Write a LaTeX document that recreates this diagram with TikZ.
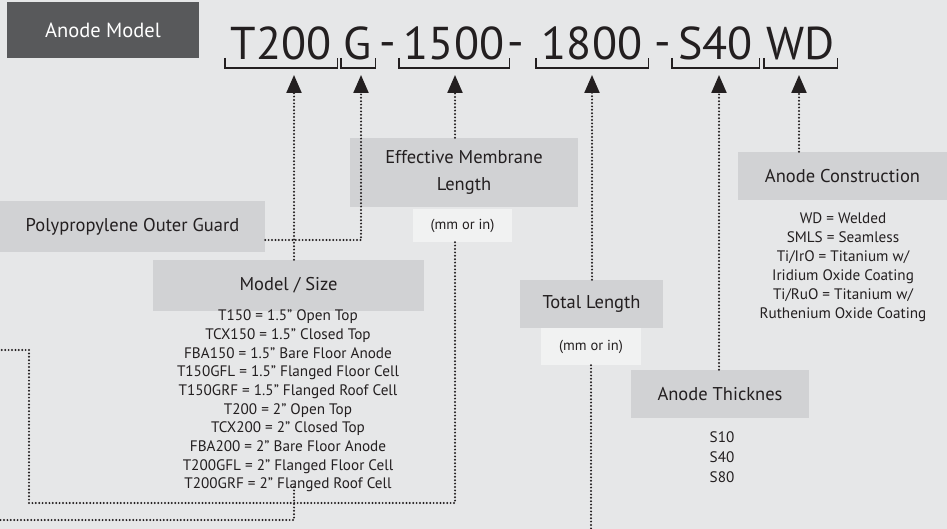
\documentclass[tikz,border=0pt]{standalone}
\usepackage{fontspec}
\setmainfont{PT Sans}
\usetikzlibrary{arrows.meta, positioning, calc}

\definecolor{bgGray}{HTML}{E6E7E8}
\definecolor{boxGray}{HTML}{D1D2D4}
\definecolor{darkBox}{HTML}{58595B}
\definecolor{unitBox}{HTML}{F1F2F2}
\definecolor{inkGray}{HTML}{231F20}

\begin{document}
\begin{tikzpicture}[x=1pt, y=-1pt, every node/.style={text=inkGray},
    codepart/.style={font=\fontsize{46}{46}\selectfont, inner sep=0pt, anchor=base},
    tag/.style={fill=boxGray, font=\fontsize{18.5}{27}\selectfont, align=center, inner sep=0pt},
    unit/.style={fill=unitBox, font=\fontsize{14.5}{16}\selectfont, inner sep=0pt},
    spec/.style={font=\fontsize{15.2}{18.7}\selectfont, align=center, inner sep=0pt},
    brk/.style={line width=1.4pt, draw=inkGray},
    lead/.style={line width=2.2pt, dash pattern=on 0pt off 3.4pt, line cap=round, draw=inkGray},
    arrowed/.style={-{Triangle[width=15pt, length=18pt]}}]
  \useasboundingbox (0,0) rectangle (947,529);
  \fill[bgGray] (0,0) rectangle (947,529);

  % model code
  \node[fill=darkBox, text=white, inner sep=0pt, minimum width=192pt, minimum height=56pt,
        font=\fontsize{20.5}{24}\selectfont] (title) at (103,30) {Anode Model};
  \node[codepart, minimum width=112pt] (cT) at (281,60) {T200};
  \node[codepart, minimum width=34pt] (cG) at (358,60) {G};
  \node[codepart] (d1) at (387.5,58) {-};
  \node[codepart, minimum width=110pt] (cM) at (454,60) {1500};
  \node[codepart] (d2) at (516,58) {-};
  \node[codepart, minimum width=112pt] (cL) at (592,60) {1800};
  \node[codepart] (d3) at (662.5,58) {-};
  \node[codepart, minimum width=87pt] (cS) at (715.5,60) {S40};
  \node[codepart, minimum width=73pt] (cW) at (800.5,60) {WD};
  \foreach \c in {cT,cG,cM,cL,cS,cW}
    \draw[brk] ($(\c.base west)+(0,-2)$) |- ($(\c.base east)+(0,8)$) -- ($(\c.base east)+(0,-2)$);

  \coordinate (aT) at (294,75);
  \coordinate (aG) at (361,75);
  \coordinate (aM) at (455,75);
  \coordinate (aL) at (592,75);
  \coordinate (aS) at (719,75);
  \coordinate (aW) at (799,75);

  % boxes
  \node[tag, minimum width=265pt, minimum height=51pt] (guard) at (132.5,226.5) {Polypropylene Outer Guard};
  \node[tag, minimum width=228pt, minimum height=69pt] (memb) at (464,172.5) {Effective Membrane\\Length};
  \node[unit, minimum width=99pt, minimum height=33pt] (unit1) at (462.5,225.5) {(mm or in)};
  \node[tag, minimum width=271pt, minimum height=51pt] (model) at (288.5,285.5) {Model / Size};
  \node[spec] (modelList) at (288,401) {T150 = 1.5” Open Top\\TCX150 = 1.5” Closed Top\\FBA150 = 1.5” Bare Floor Anode\\
    T150GFL = 1.5” Flanged Floor Cell\\T150GRF = 1.5" Flanged Roof Cell\\T200 = 2” Open Top\\TCX200 = 2” Closed Top\\
    FBA200 = 2” Bare Floor Anode\\T200GFL = 2” Flanged Floor Cell\\T200GRF = 2" Flanged Roof Cell};
  \node[tag, minimum width=143pt, minimum height=48pt] (total) at (591.5,304) {Total Length};
  \node[unit, minimum width=100pt, minimum height=37pt] (unit2) at (591,346.5) {(mm or in)};
  \node[tag, minimum width=178pt, minimum height=48pt] (thick) at (720,394) {Anode Thicknes};
  \node[spec, font=\fontsize{15.2}{20}\selectfont] (thickList) at (722,457) {S10\\S40\\S80};
  \node[tag, minimum width=209pt, minimum height=48pt] (constr) at (842.5,176) {Anode Construction};
  \node[spec, font=\fontsize{15.2}{19}\selectfont] (constrList) at (843,267.5) {WD = Welded\\SMLS = Seamless\\Ti/IrO = Titanium w/\\
    Iridium Oxide Coating\\Ti/RuO = Titanium w/\\Ruthenium Oxide Coating};

  % leaders
  \draw[lead, arrowed] (model.north -| aT) -- (aT);
  \draw[lead, arrowed] ([yshift=-13.5pt]guard.east) -| (aG);
  \draw[lead, arrowed] (memb.north -| aM) -- (aM);
  \draw[lead, arrowed] (total.north -| aL) -- (aL);
  \draw[lead, arrowed] (thick.north -| aS) -- (aS);
  \draw[lead, arrowed] (constr.north -| aW) -- (aW);

  \coordinate (bendA) at (29,503);
  \coordinate (exitA) at (0,350);
  \coordinate (startB) at (294,487);
  \coordinate (exitB) at (0,520);
  \coordinate (exitC) at (591,529);
  \draw[lead] (unit1.south -| aM) |- (bendA) |- (exitA);
  \draw[lead] (startB) |- (exitB);
  \draw[lead] (unit2.south -| exitC) -- (exitC);
\end{tikzpicture}
\end{document}
